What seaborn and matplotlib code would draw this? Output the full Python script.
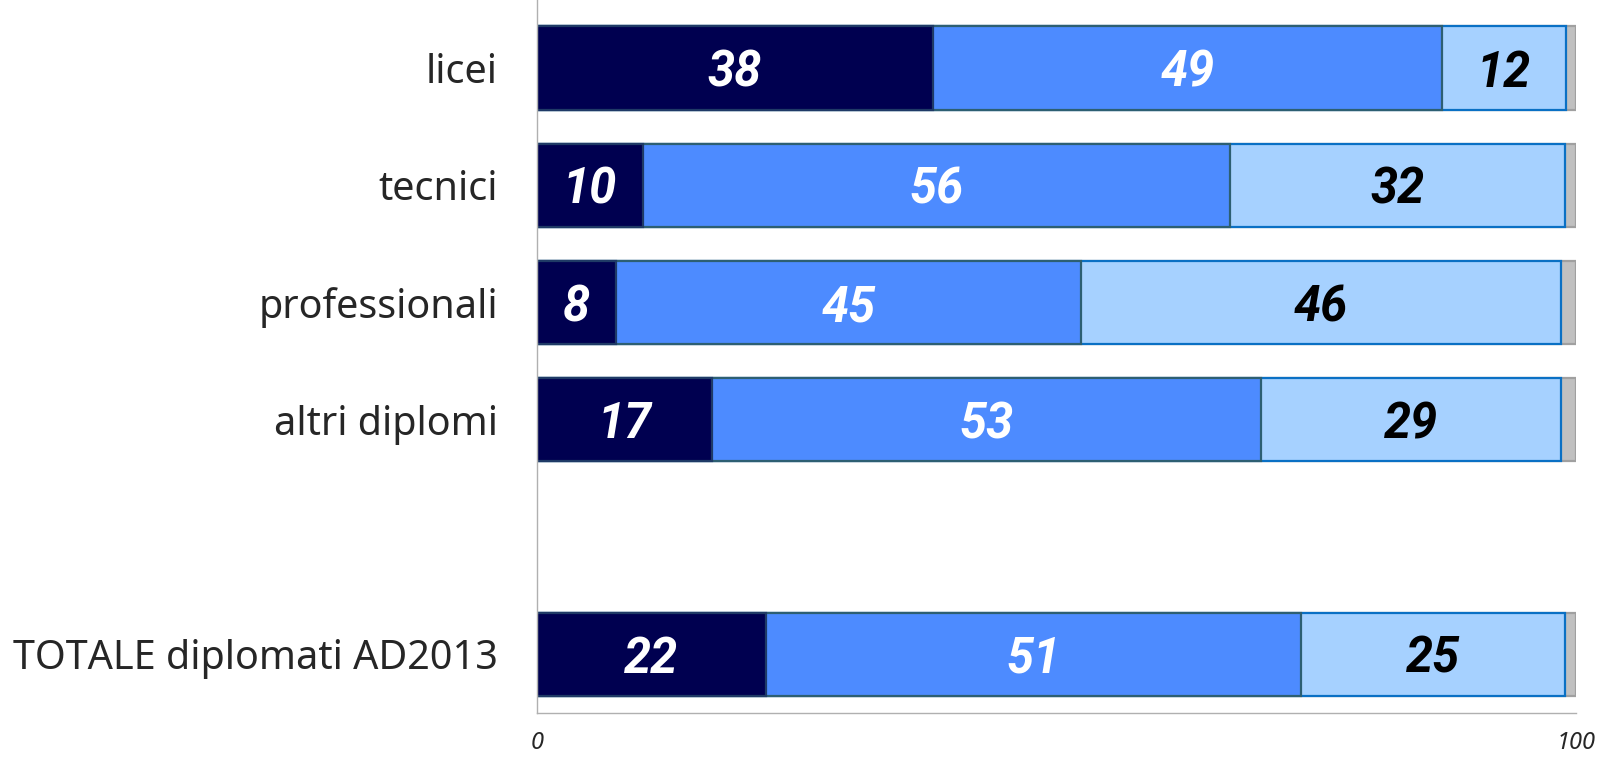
import numpy as np
import pandas as pd
import matplotlib
matplotlib.use("Agg")
import matplotlib.pyplot as plt
import seaborn as sns

# Data (percent shares, each row sums to 100)
categories = ["licei", "tecnici", "professionali", "altri diplomi", "TOTALE diplomati AD2013"]
positions = [0, 1, 2, 3, 5]  # gap before the total row
seg_dark = [38.1, 10.2, 7.6, 16.9, 22.1]
seg_mid = [49.0, 56.5, 44.8, 52.8, 51.4]
seg_light = [11.9, 32.2, 46.1, 28.8, 25.4]
seg_gray = [100 - a - b - c for a, b, c in zip(seg_dark, seg_mid, seg_light)]

colors = ["#000050", "#4d8bff", "#a6d1ff", "#c0c0c0"]
edges = ["#1f3a66", "#2d5f72", "#0a70c4", "#a0a0a0"]
text_colors = ["white", "white", "black", None]

sns.set_style("white")
plt.rcParams["font.family"] = ["Noto Sans", "DejaVu Sans"]

df = pd.DataFrame({"pos": positions, "dark": seg_dark, "mid": seg_mid,
                   "light": seg_light, "gray": seg_gray})
segs = ["dark", "mid", "light", "gray"]
cum = df[segs].cumsum(axis=1)

fig = plt.figure(figsize=(16.02, 7.59), dpi=100)
ax = fig.add_axes([0.335, 0.0606, 0.649, 0.9394])

# draw cumulative bars from the longest to the shortest so they stack
for i in reversed(range(len(segs))):
    sns.barplot(x=cum[segs[i]], y=df["pos"], orient="h", native_scale=True,
                color=colors[i], edgecolor=edges[i], linewidth=1.6,
                width=0.71, ax=ax, saturation=1)

# segment labels
for i, s in enumerate(segs[:3]):
    starts = cum[s] - df[s]
    for p, x0, v in zip(df["pos"], starts, df[s]):
        ax.text(x0 + v / 2, p, f"{round(v)}", ha="center", va="center_baseline",
                color=text_colors[i], fontsize=35, fontweight="bold",
                fontstyle="italic", family=["Roboto", "DejaVu Sans"])

ax.set_xlim(0, 100)
ax.set_ylim(5.5, -0.58)
ax.set_yticks(positions)
ax.set_yticklabels(categories, fontsize=28.5)
ax.set_xticks([0, 100])
ax.set_xticklabels(["0", "100"], fontsize=17, fontstyle="italic")
ax.set_xlabel("")
ax.set_ylabel("")
ax.tick_params(axis="y", length=0, pad=28)
ax.tick_params(axis="x", length=6, width=1, color="#b0b0b0", direction="out", pad=7)
for side in ["top", "right"]:
    ax.spines[side].set_visible(False)
for side in ["left", "bottom"]:
    ax.spines[side].set_color("#b0b0b0")
    ax.spines[side].set_linewidth(1)

plt.savefig("out.png", dpi=100)
